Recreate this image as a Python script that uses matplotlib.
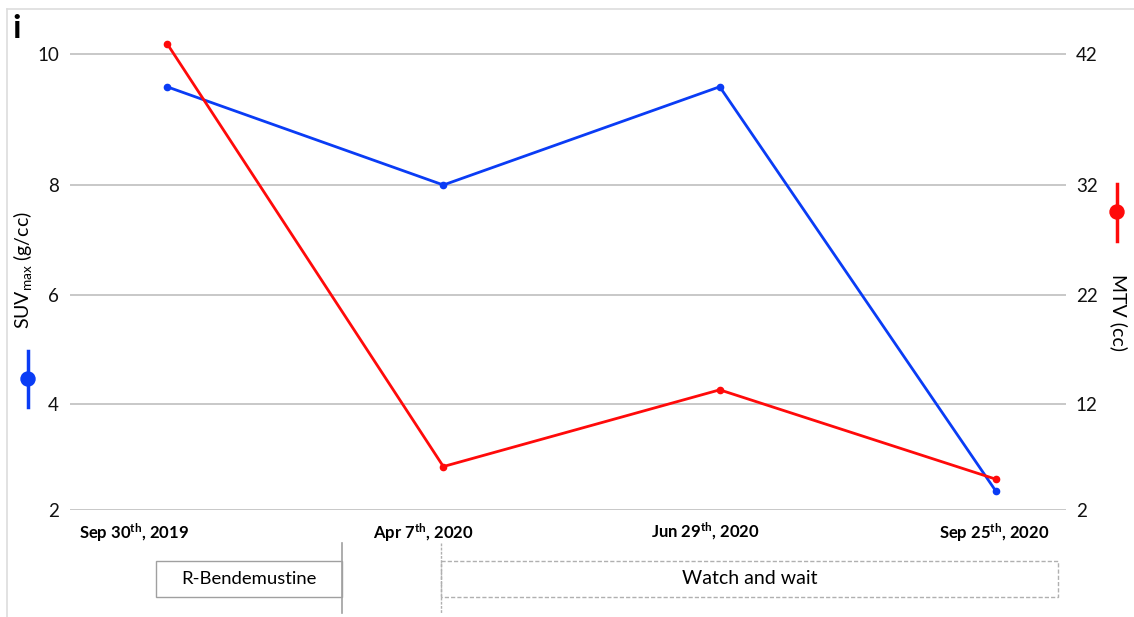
import numpy as np
import matplotlib
matplotlib.use("Agg")
import matplotlib.pyplot as plt
from matplotlib.patches import Rectangle, Circle
from matplotlib.lines import Line2D
from matplotlib.transforms import ScaledTranslation

plt.rcParams['font.family'] = ['Lato', 'DejaVu Sans']
plt.rcParams['mathtext.fontset'] = 'custom'
plt.rcParams['mathtext.rm'] = 'Lato'
plt.rcParams['mathtext.it'] = 'Lato:italic'
plt.rcParams['mathtext.bf'] = 'Lato:bold'

# --- data -------------------------------------------------------------
scan_dates = [r"Sep 30$^{\mathbf{th}}$, 2019", r"Apr 7$^{\mathbf{th}}$, 2020",
              r"Jun 29$^{\mathbf{th}}$, 2020", r"Sep 25$^{\mathbf{th}}$, 2020"]
suv_max = [9.5, 8.0, 9.5, 2.35]      # g/cc
mtv = [42.8, 6.1, 13.3, 4.9]         # cc

suv_ticks = [2, 4, 6, 8, 10]
mtv_ticks = [2, 12, 22, 32, 42]

# vertical placement of the shared gridlines (uneven spacing on the page)
grid_heights = [0, 106, 215, 325, 456]
axis_top = 480
# horizontal nudge (px) of each date label relative to its scan
label_shift_px = [-33, -20, -14, -2]

BLUE = '#0a3cf5'
RED = '#ff0a0a'
GRID = '#c8c8c8'


def piecewise_scale(vals, pos):
    vals = np.asarray(vals, float)
    pos = np.asarray(pos, float)
    lo_slope = (pos[1] - pos[0]) / (vals[1] - vals[0])
    hi_slope = (pos[-1] - pos[-2]) / (vals[-1] - vals[-2])

    def fwd(v):
        v = np.asarray(v, float)
        out = np.interp(v, vals, pos)
        out = np.where(v < vals[0], pos[0] + (v - vals[0]) * lo_slope, out)
        out = np.where(v > vals[-1], pos[-1] + (v - vals[-1]) * hi_slope, out)
        return out

    def inv(p):
        p = np.asarray(p, float)
        out = np.interp(p, pos, vals)
        out = np.where(p < pos[0], vals[0] + (p - pos[0]) / lo_slope, out)
        out = np.where(p > pos[-1], vals[-1] + (p - pos[-1]) / hi_slope, out)
        return out

    return fwd, inv


W, H = 1134, 617
fig = plt.figure(figsize=(W / 100, H / 100), dpi=100)
fig.patch.set_facecolor('white')

left_px, right_px, top_px, bottom_px = 70, 1066, 30, 510
ax = fig.add_axes([left_px / W, 1 - bottom_px / H,
                   (right_px - left_px) / W, (bottom_px - top_px) / H])
ax2 = ax.twinx()

x = np.arange(len(scan_dates))

f1, i1 = piecewise_scale(suv_ticks, grid_heights)
f2, i2 = piecewise_scale(mtv_ticks, grid_heights)
ax.set_yscale('function', functions=(f1, i1))
ax2.set_yscale('function', functions=(f2, i2))
ax.set_ylim(suv_ticks[0], float(i1(axis_top)))
ax2.set_ylim(mtv_ticks[0], float(i2(axis_top)))
ax.set_xlim(-0.351, 3.253)

ax.set_yticks(suv_ticks)
ax.set_yticklabels([str(t) for t in suv_ticks])
ax2.set_yticks(mtv_ticks)
ax2.set_yticklabels([str(t) for t in mtv_ticks])
ax.yaxis.grid(True, color=GRID, linewidth=1.4)
ax.set_axisbelow(True)

for a in (ax, ax2):
    for s in a.spines.values():
        s.set_visible(False)
ax.tick_params(axis='y', length=0, pad=8, labelsize=13.5, labelcolor='#111111')
ax2.tick_params(axis='y', length=0, pad=7, labelsize=13.5, labelcolor='#111111')
ax.set_xticks(x)
ax.set_xticklabels(scan_dates, fontweight='bold', fontsize=12)
ax.tick_params(axis='x', length=0, pad=8)
for lbl, dx in zip(ax.get_xticklabels(), label_shift_px):
    lbl.set_transform(lbl.get_transform() +
                      ScaledTranslation(dx / 100, 0, fig.dpi_scale_trans))

ax.plot(x, suv_max, color=BLUE, lw=2.0, marker='o', ms=4.5, zorder=3)
ax2.plot(x, mtv, color=RED, lw=2.0, marker='o', ms=4.5, zorder=3)

# --- overlay in pixel coordinates for labels and treatment timeline ---
ov = fig.add_axes([0, 0, 1, 1], facecolor='none')
ov.set_xlim(0, W)
ov.set_ylim(H, 0)
ov.axis('off')

# outer frame
ov.add_line(Line2D([6.5, W], [9, 9], color='#dddddd', lw=1.2))
ov.add_line(Line2D([6.5, 6.5], [9, H], color='#dddddd', lw=1.2))

ov.text(12, 29, 'i', fontsize=24, fontweight='bold', ha='left', va='center')

# axis titles with colour keys
ov.text(22, 270, r'SUV$_{\mathrm{max}}$ (g/cc)', rotation=90, fontsize=14,
        ha='center', va='center')
ov.add_line(Line2D([28, 28], [351, 407], color=BLUE, lw=2.5))
ov.add_patch(Circle((28, 379), 7, color=BLUE))

ov.text(1119, 312, 'MTV (cc)', rotation=270, fontsize=14,
        ha='center', va='center')
ov.add_line(Line2D([1117, 1117], [184, 241], color=RED, lw=2.5))
ov.add_patch(Circle((1117, 212), 7, color=RED))

# treatment timeline
ov.add_line(Line2D([342, 342], [543, 613], color='#a0a0a0', lw=1.2))
ov.add_line(Line2D([441, 441], [543, 613], color='#b0b0b0', lw=1.0,
                   linestyle=(0, (2, 1))))
ov.add_patch(Rectangle((156, 561), 342 - 156, 36, fill=False,
                       edgecolor='#a0a0a0', lw=1.0))
ov.text((156 + 342) / 2, 579, 'R-Bendemustine', fontsize=13.3,
        ha='center', va='center')
ov.add_patch(Rectangle((441, 561), 1058 - 441, 36, fill=False,
                       edgecolor='#b0b0b0', lw=1.0, linestyle=(0, (3, 1.5))))
ov.text((441 + 1058) / 2, 579, 'Watch and wait', fontsize=14,
        ha='center', va='center')

fig.savefig('out.png', dpi=100)
